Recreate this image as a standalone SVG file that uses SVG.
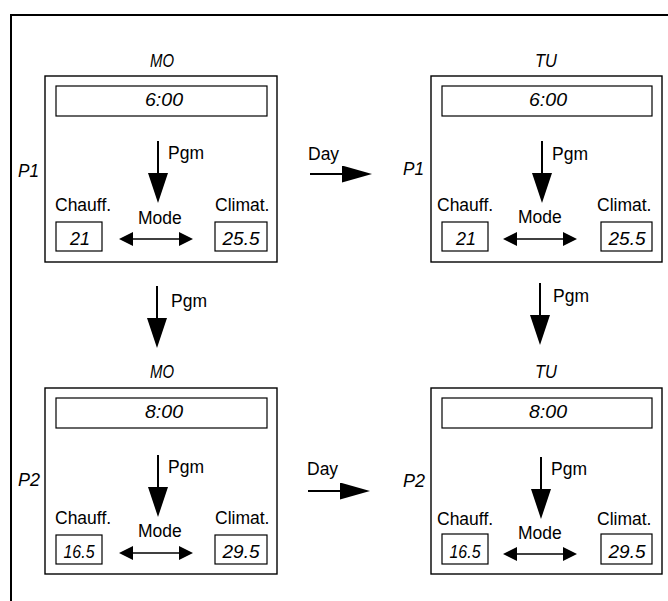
<svg xmlns="http://www.w3.org/2000/svg" width="668" height="601" viewBox="0 0 668 601">
<style>
.frame{fill:none;stroke:#000;stroke-width:2}
.panel{fill:#fff;stroke:#000;stroke-width:1.4}
.box{fill:#fff;stroke:#000;stroke-width:1.2}
.ln{stroke:#000;stroke-width:2;fill:none}
.ln2{stroke:#000;stroke-width:1.5;fill:none}
.lbl{font-family:"Liberation Sans",Arial,sans-serif;font-size:17.5px;fill:#000}
.lcd{font-family:"Liberation Sans",Arial,sans-serif;font-style:italic;font-size:18px;fill:#000;text-anchor:middle}
.tag{font-family:"Liberation Sans",Arial,sans-serif;font-style:italic;font-size:19px;fill:#000}
</style>
<defs>
<marker id="big" viewBox="0 0 30 20" refX="0" refY="10" markerWidth="30" markerHeight="20" markerUnits="userSpaceOnUse" orient="auto"><path d="M0,0 L30,10 L0,20 z" fill="#000"/></marker>
<marker id="day" viewBox="0 0 30 17" refX="0" refY="8.5" markerWidth="30" markerHeight="17" markerUnits="userSpaceOnUse" orient="auto"><path d="M0,0 L30,8.5 L0,17 z" fill="#000"/></marker>
<marker id="sm" viewBox="0 0 14 14" refX="0" refY="7" markerWidth="14" markerHeight="14" markerUnits="userSpaceOnUse" orient="auto-start-reverse"><path d="M0,0 L14,7 L0,14 z" fill="#000"/></marker>
</defs>
<path class="frame" d="M11,601 V15 H668"/>

<g id="p1-mo">
<text class="tag" x="162" y="67" text-anchor="middle" textLength="24" lengthAdjust="spacingAndGlyphs">MO</text>
<text class="tag" x="18" y="177" textLength="21" lengthAdjust="spacingAndGlyphs">P1</text>
<rect class="panel" x="45" y="76" width="232" height="186"/>
<rect class="box" x="56" y="86" width="211" height="30"/>
<text class="lcd" x="164" y="106" textLength="38" lengthAdjust="spacingAndGlyphs">6:00</text>
<line class="ln" x1="158" y1="141" x2="158" y2="173" marker-end="url(#big)"/>
<text class="lbl" x="168" y="159">Pgm</text>
<text class="lbl" x="55" y="211">Chauff.</text>
<text class="lbl" x="215" y="211">Climat.</text>
<text class="lbl" x="138" y="224">Mode</text>
<rect class="box" x="56" y="222" width="46" height="29"/>
<rect class="box" x="215" y="222" width="52" height="29"/>
<text class="lcd" x="80" y="245" font-size="17" textLength="20" lengthAdjust="spacingAndGlyphs">21</text>
<text class="lcd" x="241" y="245" font-size="17" textLength="37" lengthAdjust="spacingAndGlyphs">25.5</text>
<line class="ln2" x1="133" y1="239" x2="179" y2="239" marker-start="url(#sm)" marker-end="url(#sm)"/>
</g>

<g id="p1-tu">
<text class="tag" x="546" y="67" text-anchor="middle" textLength="22" lengthAdjust="spacingAndGlyphs">TU</text>
<text class="tag" x="403" y="175" textLength="21" lengthAdjust="spacingAndGlyphs">P1</text>
<rect class="panel" x="431" y="76" width="231" height="186"/>
<rect class="box" x="442" y="86" width="210" height="30"/>
<text class="lcd" x="548" y="106" textLength="38" lengthAdjust="spacingAndGlyphs">6:00</text>
<line class="ln" x1="542" y1="141" x2="542" y2="173" marker-end="url(#big)"/>
<text class="lbl" x="552" y="160">Pgm</text>
<text class="lbl" x="437" y="211">Chauff.</text>
<text class="lbl" x="597" y="211">Climat.</text>
<text class="lbl" x="518" y="223">Mode</text>
<rect class="box" x="442" y="222" width="46" height="29"/>
<rect class="box" x="601" y="222" width="51" height="29"/>
<text class="lcd" x="466" y="245" font-size="17" textLength="20" lengthAdjust="spacingAndGlyphs">21</text>
<text class="lcd" x="627" y="245" font-size="17" textLength="37" lengthAdjust="spacingAndGlyphs">25.5</text>
<line class="ln2" x1="517" y1="239" x2="563" y2="239" marker-start="url(#sm)" marker-end="url(#sm)"/>
</g>

<g id="p2-mo">
<text class="tag" x="162" y="378" text-anchor="middle" textLength="24" lengthAdjust="spacingAndGlyphs">MO</text>
<text class="tag" x="18" y="486" textLength="22" lengthAdjust="spacingAndGlyphs">P2</text>
<rect class="panel" x="45" y="388" width="232" height="186"/>
<rect class="box" x="56" y="398" width="211" height="30"/>
<text class="lcd" x="164" y="418" textLength="38" lengthAdjust="spacingAndGlyphs">8:00</text>
<line class="ln" x1="158" y1="455" x2="158" y2="487" marker-end="url(#big)"/>
<text class="lbl" x="168" y="473">Pgm</text>
<text class="lbl" x="55" y="524">Chauff.</text>
<text class="lbl" x="215" y="524">Climat.</text>
<text class="lbl" x="138" y="537">Mode</text>
<rect class="box" x="56" y="535" width="46" height="29"/>
<rect class="box" x="215" y="535" width="52" height="29"/>
<text class="lcd" x="79" y="558" font-size="17" textLength="31" lengthAdjust="spacingAndGlyphs">16.5</text>
<text class="lcd" x="241" y="558" font-size="17" textLength="37" lengthAdjust="spacingAndGlyphs">29.5</text>
<line class="ln2" x1="133" y1="553" x2="179" y2="553" marker-start="url(#sm)" marker-end="url(#sm)"/>
</g>

<g id="p2-tu">
<text class="tag" x="546" y="378" text-anchor="middle" textLength="22" lengthAdjust="spacingAndGlyphs">TU</text>
<text class="tag" x="403" y="487" textLength="22" lengthAdjust="spacingAndGlyphs">P2</text>
<rect class="panel" x="431" y="388" width="231" height="186"/>
<rect class="box" x="442" y="398" width="210" height="30"/>
<text class="lcd" x="548" y="418" textLength="38" lengthAdjust="spacingAndGlyphs">8:00</text>
<line class="ln" x1="541" y1="457" x2="541" y2="489" marker-end="url(#big)"/>
<text class="lbl" x="551" y="475">Pgm</text>
<text class="lbl" x="437" y="525">Chauff.</text>
<text class="lbl" x="597" y="525">Climat.</text>
<text class="lbl" x="518" y="539">Mode</text>
<rect class="box" x="442" y="534" width="46" height="30"/>
<rect class="box" x="601" y="534" width="51" height="30"/>
<text class="lcd" x="465" y="558" font-size="17" textLength="31" lengthAdjust="spacingAndGlyphs">16.5</text>
<text class="lcd" x="627" y="558" font-size="17" textLength="37" lengthAdjust="spacingAndGlyphs">29.5</text>
<line class="ln2" x1="517" y1="554" x2="563" y2="554" marker-start="url(#sm)" marker-end="url(#sm)"/>
</g>

<g id="connectors">
<line class="ln" x1="310" y1="174" x2="342" y2="174" marker-end="url(#day)"/>
<text class="lbl" x="308" y="160">Day</text>
<line class="ln" x1="308" y1="491" x2="340" y2="491" marker-end="url(#day)"/>
<text class="lbl" x="307" y="475">Day</text>
<line class="ln" x1="157" y1="286" x2="157" y2="318" marker-end="url(#big)"/>
<text class="lbl" x="171" y="307">Pgm</text>
<line class="ln" x1="540" y1="283" x2="540" y2="315" marker-end="url(#big)"/>
<text class="lbl" x="553" y="302">Pgm</text>
</g>
</svg>
